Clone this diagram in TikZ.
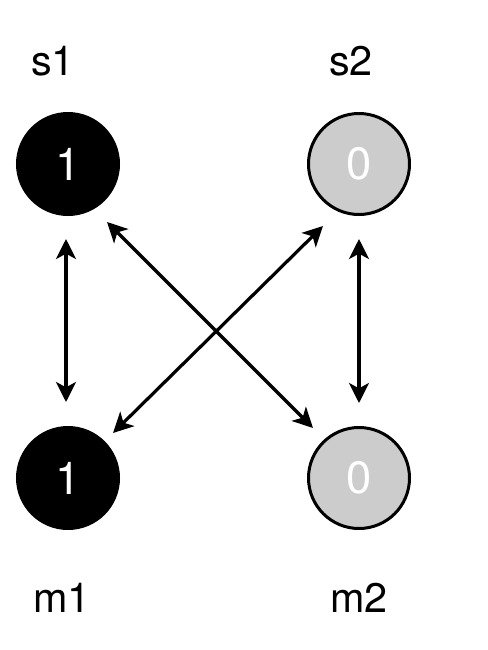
\documentclass[tikz,border=0pt]{standalone}
\usepackage{fontspec}
\setmainfont{TeX Gyre Heros}
\usetikzlibrary{arrows.meta,calc}
\definecolor{lgray}{HTML}{CCCCCC}
\begin{document}
\begin{tikzpicture}[x=0.75pt,y=-0.75pt,
  state/.style={circle,draw=black,line width=2.25pt,minimum size=75.75pt,inner sep=0pt,
    text=white,font=\fontsize{34}{34}\selectfont},
  on/.style={state,fill=black},
  off/.style={state,fill=lgray},
  lbl/.style={anchor=base,inner sep=0pt,font=\fontsize{31}{31}\selectfont},
  link/.style={line width=2.4pt,{Stealth[length=15pt,width=15pt,inset=4pt]}-{Stealth[length=15pt,width=15pt,inset=4pt]}}]
\useasboundingbox (0,0) rectangle (488,650);
\node[on]  (s1) at (68,164) {1};
\node[off] (s2) at (359,164) {0};
\node[on]  (m1) at (68,478) {1};
\node[off] (m2) at (359,478) {0};
\node[lbl] (ls1) at (53,75) {s1};
\node[lbl] (ls2) at (351,75) {s2};
\node[lbl] (lm1) at (62,612) {m1};
\node[lbl] (lm2) at (359,612) {m2};
\coordinate (a1) at ($(s1)+(-2,75)$);
\coordinate (b1) at ($(m1)+(-2,-76)$);
\coordinate (a2) at ($(s2)+(0,75)$);
\coordinate (b2) at ($(m2)+(0,-75)$);
\coordinate (a3) at ($(s1)+(39,58)$);
\coordinate (b3) at ($(m2)+(-46,-50)$);
\coordinate (a4) at ($(s2)+(-36,62)$);
\coordinate (b4) at ($(m1)+(45,-45)$);
\draw[link] (a1) -- (b1);
\draw[link] (a2) -- (b2);
\draw[link] (a3) -- (b3);
\draw[link] (a4) -- (b4);
\end{tikzpicture}
\end{document}
